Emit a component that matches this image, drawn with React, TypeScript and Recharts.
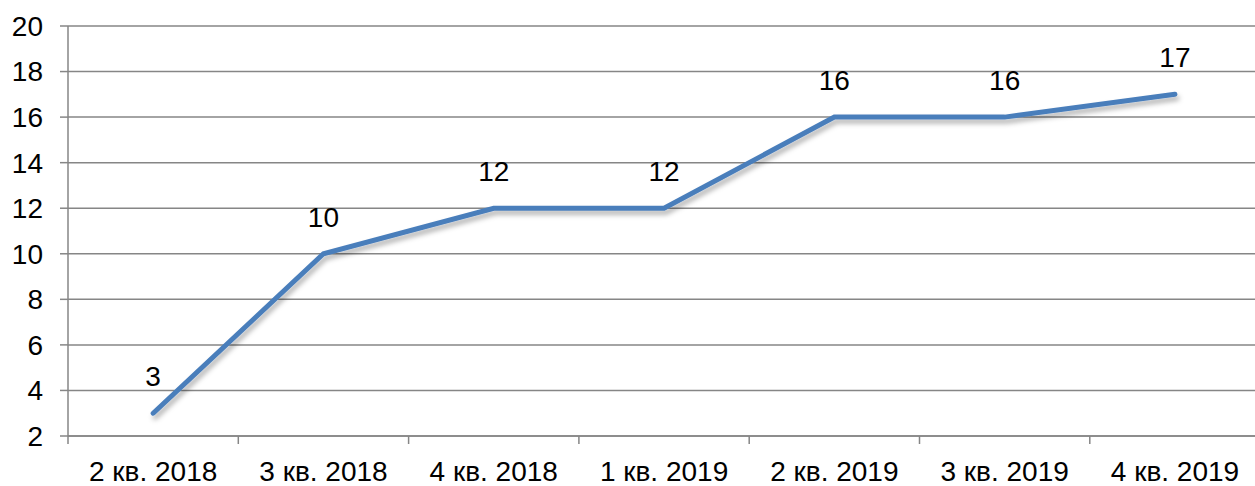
import { LineChart, Line, XAxis, YAxis, CartesianGrid, LabelList } from "recharts";

const quarters = ["2 кв. 2018", "3 кв. 2018", "4 кв. 2018", "1 кв. 2019", "2 кв. 2019", "3 кв. 2019", "4 кв. 2019"];
const counts = [3, 10, 12, 12, 16, 16, 17];
const yTicks = [2, 4, 6, 8, 10, 12, 14, 16, 18, 20];

const data = quarters.map((q, i) => ({ q, v: counts[i] }));

const W = 1255;
const H = 486;
const LEFT = 68;
const TICK_SIZE = 8;
const TICK_MARGIN = 10;
// category band; the last band runs a few px past the right edge
const BAND = 170.3;
const PAD_L = BAND / 2;
const PAD_R = W - LEFT - PAD_L - BAND * (quarters.length - 1);
const GRID = "#868686";
const FONT = "'Liberation Sans', Arial, sans-serif";
const FS = 28;

function QuarterTick(props: any) {
  const { x, y, payload } = props;
  const axisY = y - TICK_SIZE - TICK_MARGIN;
  const bx = x - BAND / 2;
  return (
    <g>
      <line x1={bx} x2={bx} y1={axisY} y2={axisY + TICK_SIZE} stroke={GRID} strokeWidth={1.5} />
      <text x={x} y={y} dy={27} textAnchor="middle" fill="#000" fontSize={FS} fontFamily={FONT}>
        {payload.value}
      </text>
    </g>
  );
}

export default function App() {
  return (
    <div style={{ position: "absolute", left: 0, top: 0, width: W, height: H, background: "#fff" }}>
      <LineChart width={W} height={H} data={data} margin={{ top: 26, right: 0, bottom: 0, left: 0 }}>
        <defs>
          <filter id="lineShadow" x="-10%" y="-10%" width="120%" height="130%">
            <feDropShadow dx="2" dy="4" stdDeviation="2.5" floodColor="#000" floodOpacity="0.3" />
          </filter>
        </defs>
        <CartesianGrid vertical={false} stroke={GRID} strokeWidth={1.5} />
        <XAxis
          dataKey="q"
          height={50}
          stroke={GRID}
          strokeWidth={1.5}
          tickLine={false}
          tickSize={TICK_SIZE}
          tickMargin={TICK_MARGIN}
          tick={<QuarterTick />}
          interval={0}
          padding={{ left: PAD_L, right: PAD_R }}
        />
        <YAxis
          width={LEFT}
          domain={[2, 20]}
          ticks={yTicks}
          interval={0}
          stroke={GRID}
          strokeWidth={1.5}
          tickSize={TICK_SIZE}
          tickMargin={17}
          tick={{ fill: "#000", fontSize: FS, fontFamily: FONT }}
        />
        <Line
          dataKey="v"
          type="linear"
          stroke="#4a7ebb"
          strokeWidth={5}
          strokeLinecap="round"
          dot={false}
          filter="url(#lineShadow)"
          isAnimationActive={false}
        >
          <LabelList dataKey="v" position="top" offset={27} fill="#000" fontSize={FS} fontFamily={FONT} />
        </Line>
      </LineChart>
    </div>
  );
}
